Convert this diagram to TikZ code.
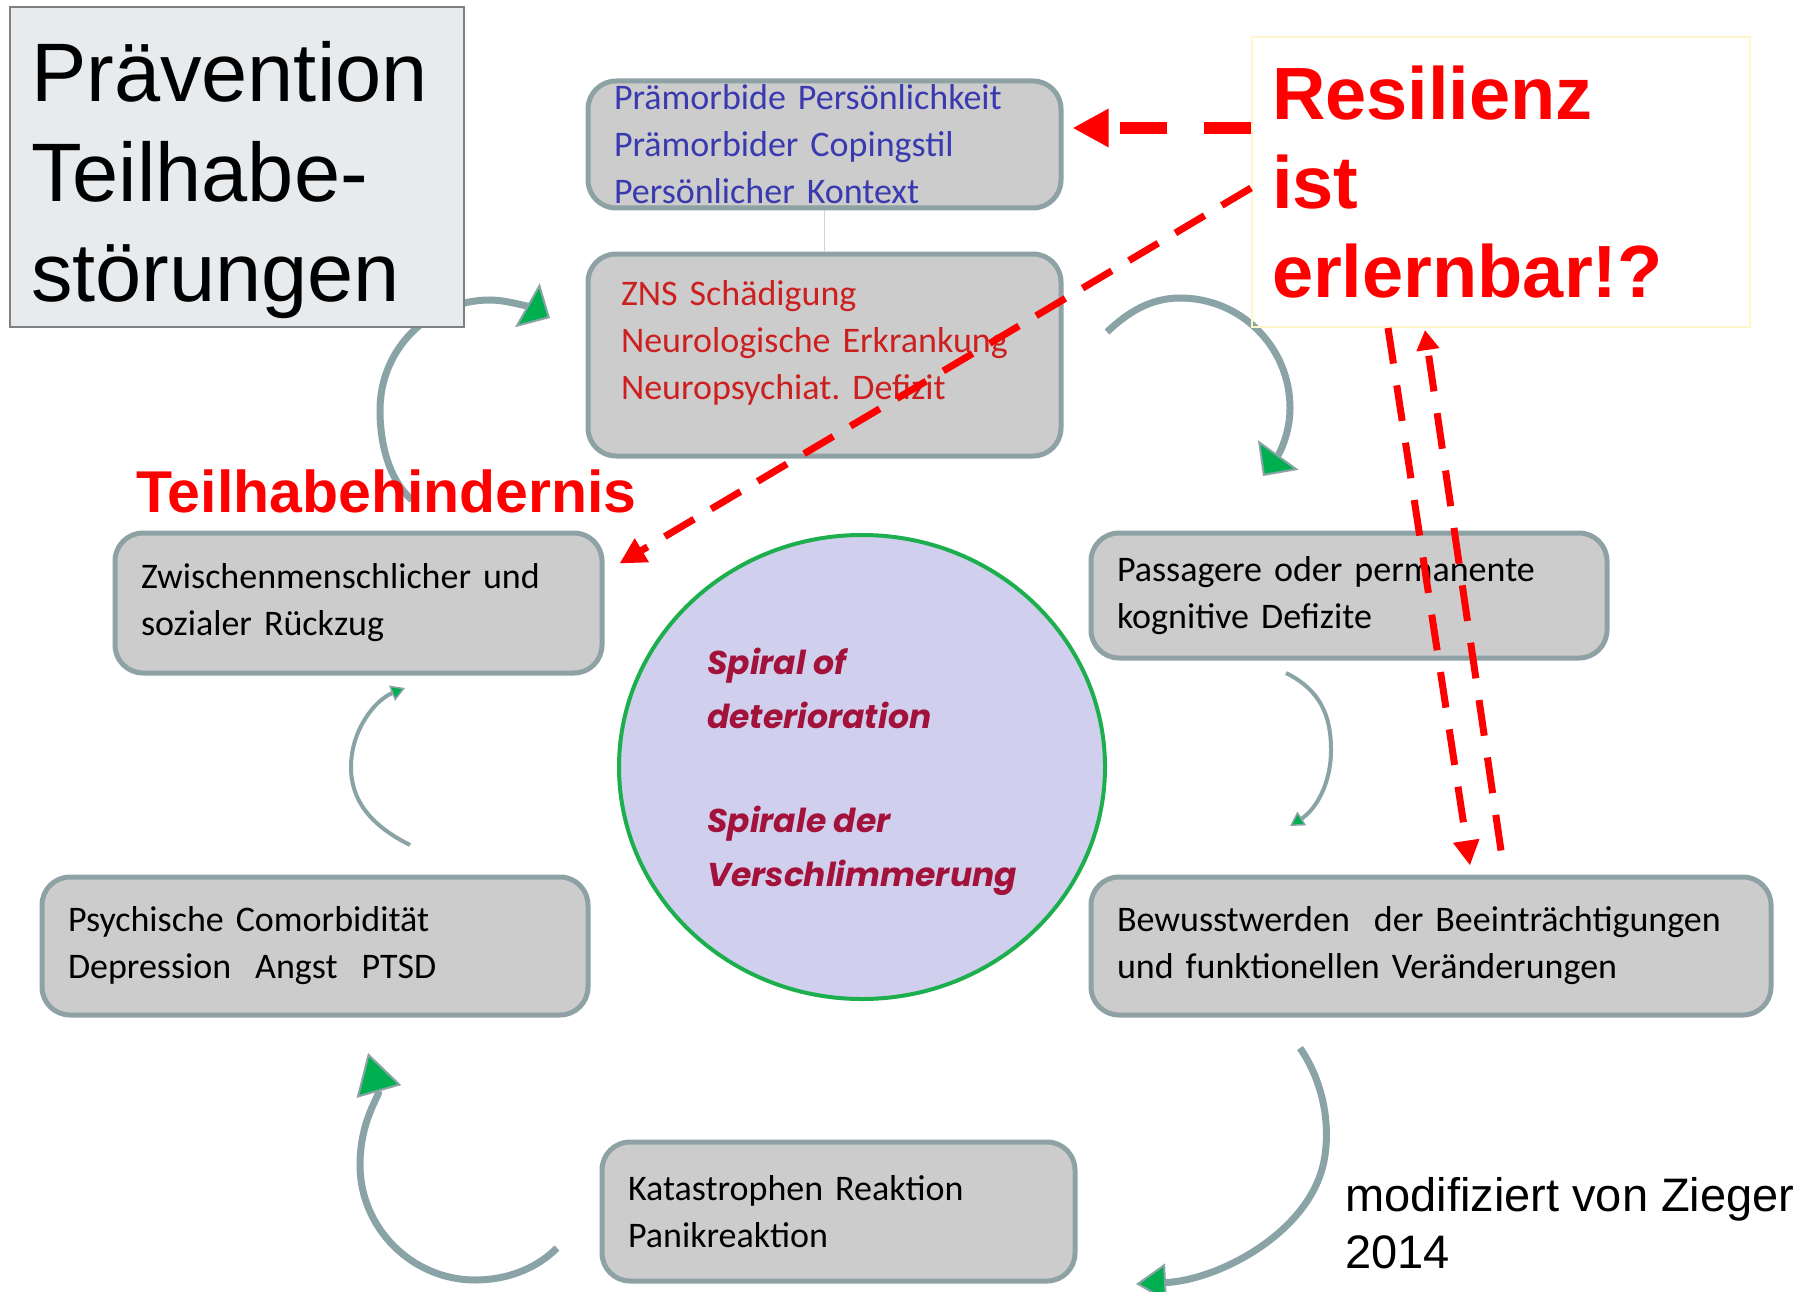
\documentclass[tikz,border=0pt]{standalone}
\usepackage{fontspec}
\setmainfont{Liberation Sans}
\newfontfamily\boxfont{Carlito}
\newfontfamily\spiralfont{Poppins}
\usetikzlibrary{arrows.meta,shapes.geometric}
\definecolor{boxgray}{HTML}{CCCCCC}
\definecolor{boxline}{HTML}{8EA2A5}
\definecolor{arcgray}{HTML}{8AA3A6}
\definecolor{arcgreen}{HTML}{00B050}
\definecolor{praemblue}{HTML}{3A3AB0}
\definecolor{znsred}{HTML}{CC2020}
\definecolor{spiralred}{HTML}{A3123A}
\definecolor{lavender}{HTML}{D0D0EE}
\definecolor{ringgreen}{HTML}{1DAF4E}
\definecolor{titlefill}{HTML}{E7EBEE}
\definecolor{resline}{HTML}{FFF6CC}
\frenchspacing

\begin{document}
\begin{tikzpicture}[x=1pt,y=-1pt,
  box/.style={draw=boxline,line width=5pt,fill=boxgray,rounded corners=28pt,align=left,
    inner xsep=26pt,inner ysep=0pt,font=\boxfont\fontsize{36}{47}\selectfont},
  cyclearrow/.style={draw=arcgray,line width=7pt,-{Triangle[length=26pt,width=50pt,fill=arcgreen,line width=2pt]}},
  thincycle/.style={draw=arcgray,line width=4pt,-{Triangle[length=14pt,width=16pt,fill=arcgreen,line width=1.5pt]}},
  reddash/.style={draw=red,line width=7pt,dash pattern=on 36pt off 22pt}]

\useasboundingbox (0,0) rectangle (1809,1292);
\fill[white] (0,0) rectangle (1809,1292);

% curved arrows of the spiral
\coordinate (la1) at (412,500); \coordinate (la2) at (550,318);
\coordinate (lb1) at (1107,332); \coordinate (lb2) at (1263,476);
\coordinate (lc1) at (1286,673); \coordinate (lc2) at (1290,826);
\coordinate (ld1) at (410,845); \coordinate (ld2) at (405,688);
\coordinate (le1) at (557,1248); \coordinate (le2) at (368,1053);
\coordinate (lf1) at (1300,1048); \coordinate (lf2) at (1136,1284);
\draw[cyclearrow] (la1) .. controls (388,479) and (380,442) .. (380,410) .. controls (380,349) and (429,300) .. (490,300) .. controls (509,300) and (534,309) .. (la2);
\draw[cyclearrow] (lb1) .. controls (1128,312) and (1151,298) .. (1180,298) .. controls (1241,298) and (1290,347) .. (1290,408) .. controls (1290,434) and (1279,454) .. (lb2);
\draw[thincycle] (lc1) .. controls (1320,690) and (1331,715) .. (1331,750) .. controls (1331,785) and (1315,810) .. (lc2);
\draw[thincycle] (ld1) .. controls (370,825) and (351,800) .. (351,767) .. controls (351,730) and (375,700) .. (ld2);
\draw[cyclearrow,-{Triangle[length=40pt,width=46pt,fill=arcgreen,line width=2pt]}] (le1) .. controls (535,1270) and (505,1280) .. (475,1280) .. controls (412,1280) and (360,1228) .. (360,1165) .. controls (360,1120) and (380,1095) .. (le2);
\draw[cyclearrow,-{Triangle[length=30pt,width=38pt,fill=arcgreen,line width=2pt]}] (lf1) .. controls (1322,1080) and (1330,1120) .. (1325,1155) .. controls (1315,1230) and (1220,1280) .. (lf2);

\node[draw=gray,line width=2.5pt,fill=titlefill,minimum width=454,minimum height=320,text width=412,
  inner xsep=21pt,align=left,font=\fontsize{83}{100}\selectfont] (title) at (237,167) {\rule{0pt}{86pt}Prävention\\Teilhabe-\\störungen};
\node[draw=resline,line width=2pt,minimum width=498,minimum height=290,text width=458,inner xsep=20pt,
  align=left,text=red,font=\bfseries\fontsize{74}{89}\selectfont] (res) at (1501,182) {Resilienz\\ist\\erlernbar!?};

\node[box,text=praemblue,minimum width=473,minimum height=127,text width=421] (praem) at (824.5,144.5)
  {Prämorbide Persönlichkeit\\Prämorbider Copingstil\\Persönlicher Kontext};
\node[box,text=znsred,minimum width=473,minimum height=202,text width=407,inner xsep=33pt] (zns) at (824.5,355)
  {ZNS Schädigung\\Neurologische Erkrankung\\Neuropsychiat. Defizit\rule[-30pt]{0pt}{30pt}};
\draw[boxline!45,line width=1.5pt] (praem.south) -- (zns.north);
\node[box,minimum width=487,minimum height=140,text width=435] (zwisch) at (358.5,603)
  {Zwischenmenschlicher und\\sozialer Rückzug};
\node[box,minimum width=516,minimum height=125,text width=464] (passag) at (1349,595.5)
  {Passagere oder permanente\\kognitive Defizite};
\node[box,minimum width=546,minimum height=138,text width=494] (psych) at (315,946)
  {Psychische Comorbidität\\Depression\ \ Angst\ \ PTSD};
\node[box,minimum width=680,minimum height=138,text width=628] (bewusst) at (1431,946)
  {Bewusstwerden\ \ der Beeinträchtigungen\\und funktionellen Veränderungen};
\node[box,minimum width=473,minimum height=139,text width=421] (katas) at (838.5,1211.5)
  {Katastrophen Reaktion\\Panikreaktion};

\node[ellipse,draw=ringgreen,line width=4pt,fill=lavender,minimum width=486,minimum height=464,inner sep=0pt,
  align=left,text=spiralred,font=\spiralfont\bfseries\itshape\fontsize{33}{54}\selectfont] (spiral) at (862,767)
  {\rule{0pt}{36pt}Spiral of\\deterioration\\[50pt]Spirale der\\Verschlimmerung};

\node[anchor=base west,inner sep=0pt,text=red,font=\bfseries\fontsize{59}{70}\selectfont] (hind) at (136,512) {Teilhabehindernis};
\node[anchor=base west,inner sep=0pt,align=left,font=\fontsize{47}{57}\selectfont] (quelle) at (1345,1268) {modifiziert von Zieger\\2014};

% red dashed arrows
\coordinate (r1) at (1160,128);
\draw[reddash,line width=12pt,dash pattern=on 47pt off 37pt,-{Triangle[length=36pt,width=36pt]}] (r1 -| res.west) -- ([xshift=9pt]r1 -| praem.east);
\draw[reddash,dash pattern=on 34pt off 20pt,-{Triangle[length=26pt,width=26pt]}] ([yshift=-6pt]res.west) -- ([xshift=15pt,yshift=-33pt]zwisch.north east);
\draw[reddash,-{Triangle[length=25pt,width=25pt]}] ([xshift=-113pt]res.south) -- ([xshift=39pt,yshift=9pt]bewusst.north);
\draw[reddash,-{Triangle[length=20pt,width=22pt]}] ([xshift=70pt,yshift=24pt]bewusst.north) -- ([xshift=-76pt,yshift=-2pt]res.south);
\end{tikzpicture}
\end{document}
